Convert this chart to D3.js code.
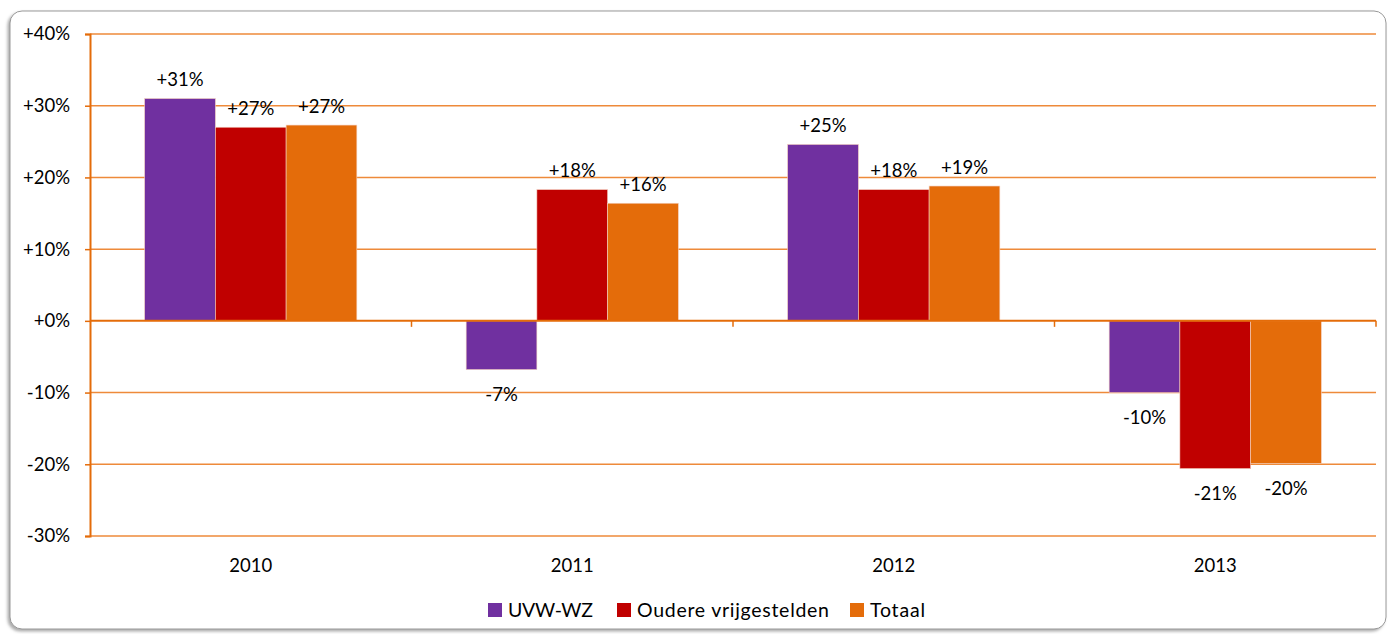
<!DOCTYPE html>
<html><head><meta charset="utf-8">
<script src="https://cdn.jsdelivr.net/npm/d3@7"></script>
<style>body{margin:0;background:#fff;}svg{display:block;font-family:Lato,"Open Sans",sans-serif;}</style>
</head><body>
<svg id="c" width="1391" height="634"></svg>
<script>
const categories = ["2010","2011","2012","2013"];
const seriesNames = ["UVW-WZ","Oudere vrijgestelden","Totaal"];
const uvwwz = [31.0, -6.8, 24.6, -10.0];
const oudere = [27.0, 18.3, 18.3, -20.6];
const totaal = [27.3, 16.4, 18.8, -19.9];
const labelsUvw = ["+31%","-7%","+25%","-10%"];
const labelsOud = ["+27%","+18%","+18%","-21%"];
const labelsTot = ["+27%","+16%","+19%","-20%"];
const yTicks = [40,30,20,10,0,-10,-20,-30];
const yTickLabels = ["+40%","+30%","+20%","+10%","+0%","-10%","-20%","-30%"];
const colors = ["#7030A0","#C00000","#E46C0A"];

(function(){
const values = [uvwwz, oudere, totaal];
const labels = [labelsUvw, labelsOud, labelsTot];
const svg = d3.select("#c");
const fs = 18.5;

const defs = svg.append("defs");
const f = defs.append("filter").attr("id","sh").attr("x","-5%").attr("y","-5%").attr("width","110%").attr("height","115%");
f.append("feDropShadow").attr("dx",-2).attr("dy",2).attr("stdDeviation",1.5).attr("flood-color","#888").attr("flood-opacity",0.7);
svg.append("rect").attr("x",10).attr("y",11).attr("width",1376).attr("height",618).attr("rx",12)
  .attr("fill","#fff").attr("stroke","#999").attr("stroke-width",1).attr("filter","url(#sh)");

const pL=90, pR=1376, pT=34, pB=536;
const y = d3.scaleLinear().domain([-30,40]).range([pB, pT]);
const x0 = d3.scaleBand().domain(categories).range([pL,pR]).padding(0);
const bw = x0.bandwidth();
const x1 = d3.scaleBand().domain(seriesNames).range([bw*0.17, bw*0.83]).padding(0);

svg.append("g").selectAll("line").data(yTicks.filter(t=>t!==0)).join("line")
  .attr("x1",pL).attr("x2",pR).attr("y1",d=>y(d)).attr("y2",d=>y(d))
  .attr("stroke","#EE8A3A").attr("stroke-width",1.5);

const g = svg.append("g");
seriesNames.forEach((s,si)=>{
  g.selectAll(null).data(categories).join("rect")
    .attr("x",c=>x0(c)+x1(s))
    .attr("width",x1.bandwidth())
    .attr("y",(c,i)=>y(Math.max(0,values[si][i])))
    .attr("height",(c,i)=>Math.abs(y(values[si][i])-y(0)))
    .attr("fill",colors[si]).attr("stroke","#f3d0c0").attr("stroke-width",0.6);
});

const yAxis = d3.axisLeft(y).tickValues(yTicks).tickSize(5).tickFormat((d,i)=>yTickLabels[i]);
const ya = svg.append("g").attr("transform",`translate(${pL},0)`).call(yAxis);
ya.select(".domain").attr("stroke","#E46C0A").attr("stroke-width",2);
ya.selectAll(".tick line").attr("stroke","#E46C0A").attr("stroke-width",1.5);
ya.selectAll(".tick text").attr("x",-20).attr("font-size",fs).attr("fill","#000").attr("font-family","Lato");

const xa = svg.append("g").attr("transform",`translate(0,${y(0)})`);
xa.append("line").attr("x1",pL).attr("x2",pR).attr("stroke","#E46C0A").attr("stroke-width",2);
xa.selectAll(null).data(categories).join("line")
  .attr("x1",c=>x0(c)+bw).attr("x2",c=>x0(c)+bw).attr("y1",0).attr("y2",6)
  .attr("stroke","#E46C0A").attr("stroke-width",1.5);

svg.append("g").selectAll("text").data(categories).join("text")
  .attr("x",c=>x0(c)+bw/2).attr("y",571.5).attr("text-anchor","middle")
  .attr("font-size",fs).text(c=>c);

seriesNames.forEach((s,si)=>{
  svg.append("g").selectAll("text").data(categories).join("text")
    .attr("x",c=>x0(c)+x1(s)+x1.bandwidth()/2)
    .attr("y",(c,i)=>{const v=values[si][i]; return v>=0 ? y(v)-12.5 : y(v)+31.5;})
    .attr("text-anchor","middle").attr("font-size",fs)
    .text((c,i)=>labels[si][i]);
});

const legX = [488, 617, 850];
const legW = [85, 192, 55];
const lg = svg.append("g");
seriesNames.forEach((s,si)=>{
  lg.append("rect").attr("x",legX[si]).attr("y",603).attr("width",14).attr("height",14).attr("fill",colors[si]);
  lg.append("text").attr("x",legX[si]+20).attr("y",617).attr("font-size",19.5)
    .attr("textLength",legW[si]).attr("lengthAdjust","spacing").text(s);
});
})();
</script>
</body></html>
